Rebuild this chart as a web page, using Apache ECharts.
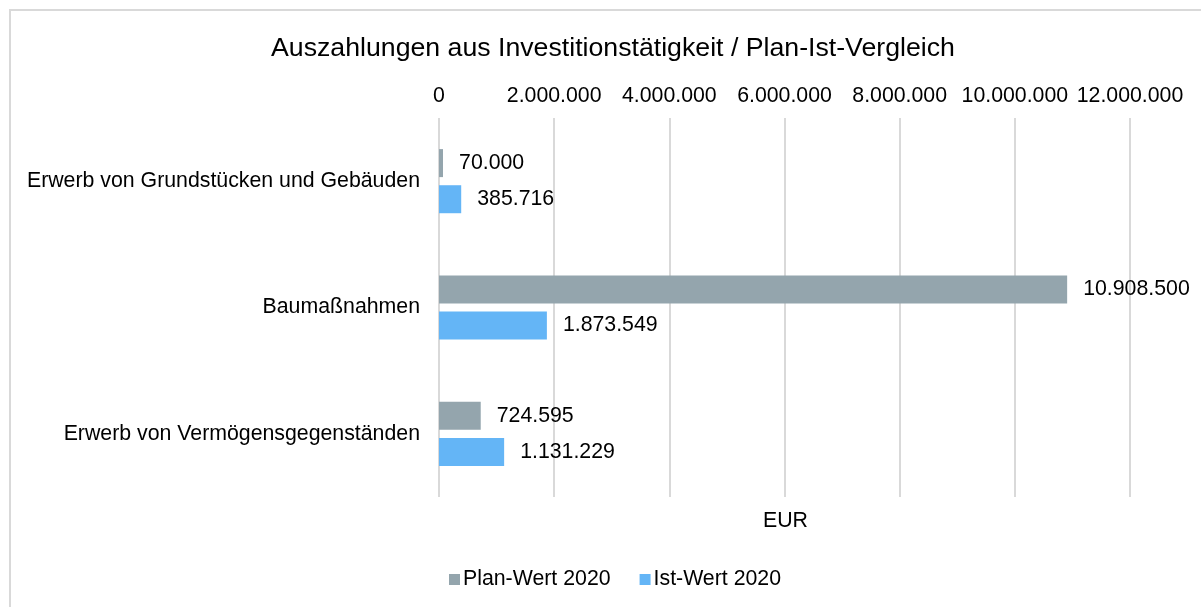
<!DOCTYPE html>
<html>
<head>
<meta charset="utf-8">
<script src="https://cdn.jsdelivr.net/npm/echarts@6/dist/echarts.min.js"></script>
<style>
  html, body { margin: 0; padding: 0; background: #fff; overflow: hidden; }
  #frame { position: absolute; left: 9px; top: 9px; width: 1300px; height: 700px; border: 2px solid #d9d9d9; box-sizing: border-box; }
  #chart { position: absolute; left: 0; top: 0; width: 1201px; height: 607px; }
</style>
</head>
<body>
<div id="frame"></div>
<div id="chart"></div>
<script>
// Daten
const categories = ['Erwerb von Grundstücken und Gebäuden', 'Baumaßnahmen', 'Erwerb von Vermögensgegenständen']
const planWerte = [70000, 10908500, 724595]
const istWerte = [385716, 1873549, 1131229]
const seriesNames = ['Plan-Wert 2020', 'Ist-Wert 2020']

const fmt = v => String(Math.round(v)).replace(/\B(?=(\d{3})+(?!\d))/g, '.')
const font = 'Liberation Sans, Arial, sans-serif'
const fs = 21.3

const chart = echarts.init(document.getElementById('chart'))
chart.setOption({
  animation: false,
  textStyle: { fontFamily: font },
  title: {
    text: 'Auszahlungen aus Investitionstätigkeit / Plan-Ist-Vergleich',
    left: 266,
    top: 30,
    textStyle: { fontSize: 26.7, fontWeight: 'normal', color: '#000', fontFamily: font }
  },
  legend: {
    bottom: 12,
    left: 444,
    icon: 'rect',
    itemWidth: 11,
    itemHeight: 11,
    itemGap: 29,
    textStyle: { fontSize: fs, color: '#000', fontFamily: font, padding: [0, 0, 0, -2] },
    data: seriesNames
  },
  grid: { left: 439, right: 71, top: 118, bottom: 110 },
  xAxis: {
    type: 'value',
    position: 'top',
    min: 0,
    max: 12000000,
    interval: 2000000,
    axisLine: { show: false },
    axisTick: { show: false },
    axisLabel: { fontSize: fs, color: '#000', margin: 11, formatter: fmt },
    splitLine: { lineStyle: { color: '#d9d9d9', width: 2 } }
  },
  yAxis: {
    type: 'category',
    inverse: true,
    data: categories,
    axisLine: { show: false },
    axisTick: { show: false },
    axisLabel: { fontSize: fs, color: '#000', margin: 19 }
  },
  graphic: [{
    type: 'text',
    left: 763,
    top: 511,
    style: { text: 'EUR', fontSize: fs, fill: '#000', fontFamily: font }
  }],
  series: [
    {
      name: seriesNames[0],
      type: 'bar',
      data: planWerte,
      barWidth: 28,
      barGap: '29%',
      itemStyle: { color: '#94a5ad' },
      label: { show: true, position: 'right', distance: 16, fontSize: fs, color: '#000', formatter: p => fmt(p.value) }
    },
    {
      name: seriesNames[1],
      type: 'bar',
      data: istWerte,
      barWidth: 28,
      barGap: '29%',
      itemStyle: { color: '#64b5f6' },
      label: { show: true, position: 'right', distance: 16, fontSize: fs, color: '#000', formatter: p => fmt(p.value) }
    }
  ]
})
</script>
</body>
</html>
